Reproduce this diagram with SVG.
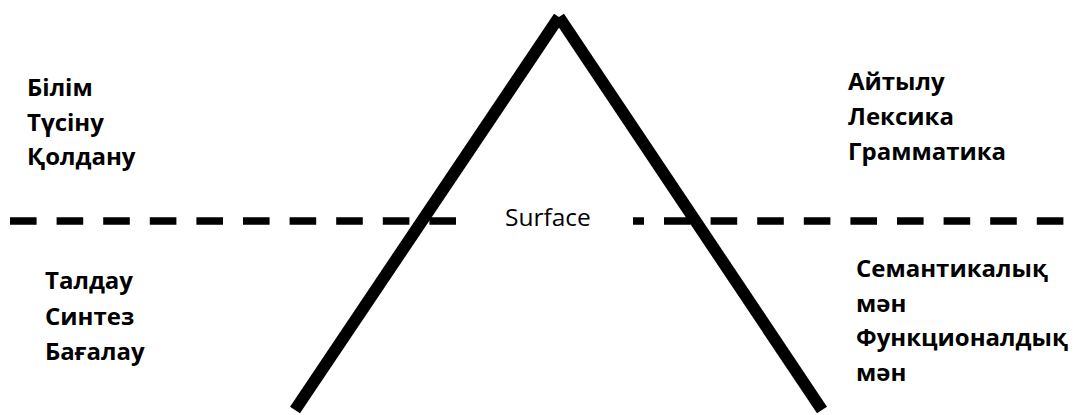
<svg xmlns="http://www.w3.org/2000/svg" width="1083" height="415" viewBox="0 0 1083 415">
<style>
.lbl{font-family:"Open Sans","Noto Sans","DejaVu Sans",sans-serif;font-weight:700;font-size:24px;fill:#000}
.surf{font-family:"Open Sans","Noto Sans","DejaVu Sans",sans-serif;font-weight:400;font-size:24.5px;fill:#000}
.dash{stroke:#000;stroke-width:7.5;stroke-dasharray:26.6 20;fill:none}
.side{stroke:#000;stroke-width:12;stroke-linecap:butt;fill:none}
</style>
<rect width="1083" height="415" fill="#fff"/>
<g id="connectors">
<line class="dash" x1="10" y1="221" x2="457" y2="221"/>
<line class="dash" x1="633" y1="221" x2="1064" y2="221" stroke-dashoffset="15.6"/>
<line class="side" x1="559" y1="17" x2="295" y2="410"/>
<line class="side" x1="559" y1="17" x2="822" y2="410"/>
</g>
<g id="surface"><text class="surf" x="505" y="226">Surface</text></g>
<g id="top-left">
<text class="lbl" x="27" y="96">Білім</text>
<text class="lbl" x="27" y="131">Түсіну</text>
<text class="lbl" x="27" y="165">Қолдану</text>
</g>
<g id="top-right">
<text class="lbl" x="848" y="90">Айтылу</text>
<text class="lbl" x="848" y="125">Лексика</text>
<text class="lbl" x="848" y="160">Грамматика</text>
</g>
<g id="bottom-left">
<text class="lbl" x="45" y="289">Талдау</text>
<text class="lbl" x="45" y="325">Синтез</text>
<text class="lbl" x="45" y="360">Бағалау</text>
</g>
<g id="bottom-right">
<text class="lbl" x="856" y="277">Семантикалық</text>
<text class="lbl" x="856" y="312">мән</text>
<text class="lbl" x="856" y="346">Функционалдық</text>
<text class="lbl" x="856" y="381">мән</text>
</g>
</svg>
